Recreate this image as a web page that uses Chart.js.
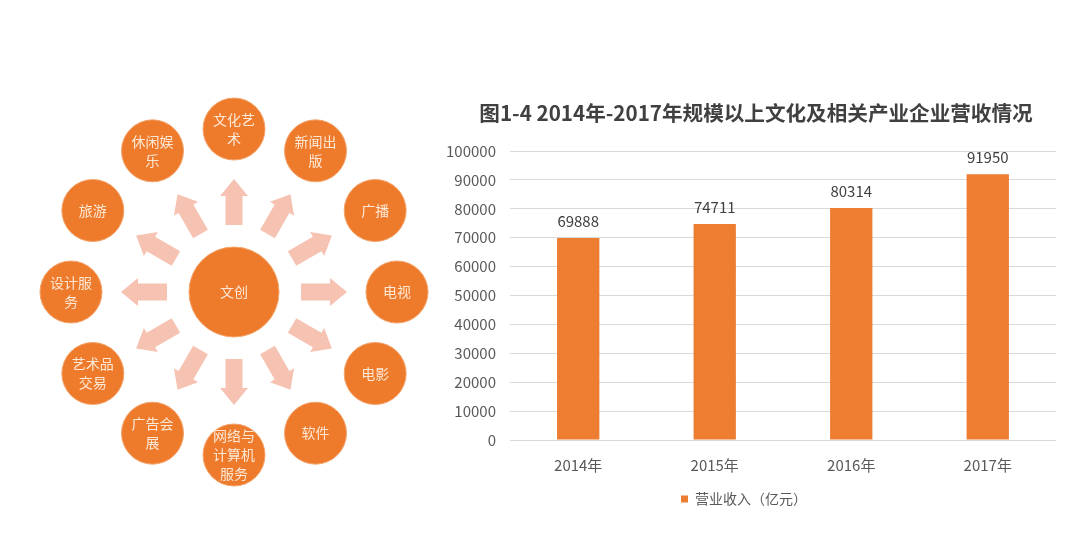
<!DOCTYPE html>
<html>
<head>
<meta charset="utf-8">
<script src="https://cdn.jsdelivr.net/npm/chart.js@4/dist/chart.umd.min.js"></script>
<style>
  body { margin: 0; background: #fff; width: 1077px; height: 551px; overflow: hidden; position: relative; }
  #wheel { position: absolute; left: 14px; top: 62px; }
  #bars { position: absolute; left: 430px; top: 90px; }
</style>
</head>
<body>
<canvas id="wheel" width="440" height="460"></canvas>
<canvas id="bars" width="652" height="440"></canvas>
<script>
// diagram labels, clockwise from the top
const nodeLabels = ['文化艺\n术', '新闻出\n版', '广播', '电视', '电影', '软件',
    '网络与\n计算机\n服务', '广告会\n展', '艺术品\n交易', '设计服\n务', '旅游', '休闲娱\n乐'];
const centerLabel = '文创';

// bar chart data
const years = ['2014年', '2015年', '2016年', '2017年'];
const revenue = [69888, 74711, 80314, 91950];
const seriesName = '营业收入（亿元）';
const chartTitle = '图1-4 2014年-2017年规模以上文化及相关产业企业营收情况';

const ORANGE = '#ed7d31';
const FONT = '"Noto Sans CJK SC", "Noto Sans", sans-serif';

// ---------- left wheel diagram ----------
const ringR = 163;
const ringPoints = nodeLabels.map((_, i) => {
    const a = i * Math.PI / 6;
    return { x: ringR * Math.sin(a), y: ringR * Math.cos(a) };
});

const arrowPlugin = {
    id: 'arrows',
    beforeDatasetsDraw(chart) {
        const ctx = chart.ctx;
        const sx = chart.scales.x, sy = chart.scales.y;
        const cx = sx.getPixelForValue(0), cy = sy.getPixelForValue(0);
        ctx.save();
        ctx.fillStyle = '#f6c2b2';
        nodeLabels.forEach((_, i) => {
            const a = i * Math.PI / 6;
            ctx.save();
            ctx.translate(cx, cy);
            ctx.rotate(a); // draw pointing up (negative y)
            const tail = 67, base = 96, tip = 113, sw = 8.5, hw = 14;
            ctx.beginPath();
            ctx.moveTo(-sw, -tail);
            ctx.lineTo(-sw, -base);
            ctx.lineTo(-hw, -base);
            ctx.lineTo(0, -tip);
            ctx.lineTo(hw, -base);
            ctx.lineTo(sw, -base);
            ctx.lineTo(sw, -tail);
            ctx.closePath();
            ctx.fill();
            ctx.restore();
        });
        ctx.restore();
    },
    afterDatasetsDraw(chart) {
        const ctx = chart.ctx;
        ctx.save();
        ctx.fillStyle = '#fde8d6';
        ctx.font = '14px ' + FONT;
        ctx.textAlign = 'center';
        ctx.textBaseline = 'middle';
        const drawLines = (text, x, y) => {
            const lines = text.split('\n');
            const lh = 19;
            lines.forEach((ln, k) => {
                ctx.fillText(ln, x, y + (k - (lines.length - 1) / 2) * lh);
            });
        };
        chart.getDatasetMeta(0).data.forEach((pt, i) => drawLines(nodeLabels[i], pt.x, pt.y));
        const c = chart.getDatasetMeta(1).data[0];
        drawLines(centerLabel, c.x, c.y);
        ctx.restore();
    }
};

new Chart(document.getElementById('wheel'), {
    type: 'scatter',
    data: {
        datasets: [
            { data: ringPoints, pointRadius: 31, backgroundColor: '#ee7b2c', borderColor: '#f3a46c', borderWidth: 1 },
            { data: [{ x: 0, y: 0 }], pointRadius: 45, backgroundColor: '#ee7b2c', borderColor: '#f3a46c', borderWidth: 1 }
        ]
    },
    options: {
        responsive: false,
        animation: false,
        layout: { padding: 0, autoPadding: false },
        plugins: { legend: { display: false }, tooltip: { enabled: false } },
        scales: {
            x: { display: false, min: -220, max: 220 },
            y: { display: false, min: -230, max: 230 }
        }
    },
    plugins: [arrowPlugin]
});

// ---------- right bar chart ----------
const valueLabels = {
    id: 'valueLabels',
    afterDatasetsDraw(chart) {
        const ctx = chart.ctx;
        ctx.save();
        ctx.fillStyle = '#404040';
        ctx.font = '15px ' + FONT;
        ctx.textAlign = 'center';
        ctx.textBaseline = 'bottom';
        chart.getDatasetMeta(0).data.forEach((bar, i) => {
            ctx.fillText(String(revenue[i]), bar.x, bar.y - 9);
        });
        ctx.restore();
    }
};

// title centred on the whole canvas, not on the padded box
const titlePlugin = {
    id: 'canvasTitle',
    afterDraw(chart) {
        const ctx = chart.ctx;
        ctx.save();
        ctx.fillStyle = '#404040';
        ctx.font = 'bold 20.6px ' + FONT;
        ctx.textAlign = 'center';
        ctx.textBaseline = 'middle';
        ctx.fillText(chartTitle, chart.width / 2, 23);
        ctx.restore();
    }
};

new Chart(document.getElementById('bars'), {
    type: 'bar',
    data: {
        labels: years,
        datasets: [{
            label: seriesName,
            data: revenue,
            backgroundColor: ORANGE,
            categoryPercentage: 1,
            barPercentage: 0.31
        }]
    },
    options: {
        responsive: false,
        animation: false,
        layout: { padding: { left: 2, right: 26, top: 61, bottom: 14 } },
        plugins: {
            legend: {
                position: 'bottom',
                labels: {
                    color: '#595959',
                    font: { family: FONT, size: 14 },
                    boxWidth: 7,
                    boxHeight: 7,
                    padding: 10
                }
            },
            tooltip: { enabled: false }
        },
        scales: {
            x: {
                grid: { display: false },
                border: { display: false },
                ticks: { color: '#595959', font: { family: FONT, size: 15 }, padding: 8 }
            },
            y: {
                min: 0,
                max: 100000,
                ticks: {
                    stepSize: 10000,
                    color: '#595959',
                    font: { family: FONT, size: 15 },
                    padding: 14,
                    callback: v => String(v)
                },
                grid: { color: '#d9d9d9', drawTicks: false },
                border: { display: false }
            }
        }
    },
    plugins: [valueLabels, titlePlugin]
});
</script>
</body>
</html>
